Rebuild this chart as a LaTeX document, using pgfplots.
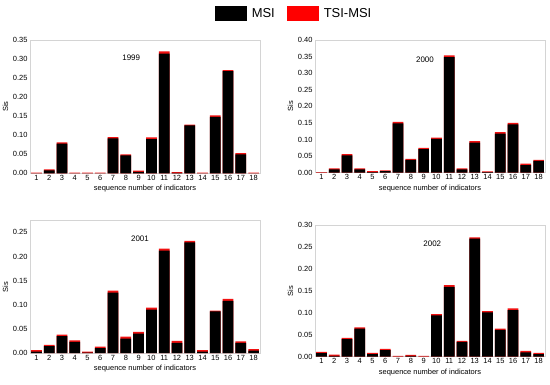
\documentclass[border=0pt]{standalone}
\usepackage{pgfplots}
\pgfplotsset{compat=1.18}
\usepackage{pgfplotstable}
\usepackage{fontspec}
\setmainfont{Liberation Sans}
\definecolor{boxgray}{HTML}{D4D4D4}
\definecolor{capred}{HTML}{F01010}

\pgfplotstableread{
x msi tsi
1 0.000 0.002
2 0.008 0.010
3 0.078 0.081
4 0.000 0.002
5 0.000 0.002
6 0.000 0.002
7 0.092 0.095
8 0.047 0.050
9 0.004 0.007
10 0.090 0.094
11 0.314 0.320
12 0.001 0.003
13 0.126 0.128
14 0.000 0.002
15 0.148 0.152
16 0.268 0.271
17 0.050 0.053
18 0.000 0.002
}\ynineteen

\pgfplotstableread{
x msi tsi
1 0.000 0.002
2 0.010 0.013
3 0.052 0.056
4 0.010 0.013
5 0.002 0.005
6 0.005 0.007
7 0.149 0.153
8 0.039 0.042
9 0.071 0.075
10 0.102 0.106
11 0.348 0.354
12 0.010 0.013
13 0.091 0.095
14 0.002 0.004
15 0.118 0.122
16 0.146 0.150
17 0.023 0.027
18 0.036 0.039
}\ytwothousand

\pgfplotstableread{
x msi tsi
1 0.003 0.006
2 0.014 0.017
3 0.035 0.038
4 0.023 0.026
5 0.001 0.003
6 0.010 0.013
7 0.125 0.129
8 0.030 0.034
9 0.040 0.044
10 0.090 0.094
11 0.212 0.216
12 0.021 0.025
13 0.229 0.232
14 0.003 0.006
15 0.086 0.088
16 0.108 0.112
17 0.021 0.024
18 0.005 0.008
}\ytwothousandone

\pgfplotstableread{
x msi tsi
1 0.008 0.011
2 0.002 0.005
3 0.040 0.043
4 0.064 0.067
5 0.006 0.009
6 0.015 0.018
7 0.000 0.002
8 0.002 0.004
9 0.000 0.002
10 0.094 0.097
11 0.159 0.163
12 0.034 0.036
13 0.269 0.272
14 0.101 0.104
15 0.061 0.064
16 0.106 0.110
17 0.010 0.013
18 0.006 0.009
}\ytwothousandtwo

\pgfplotsset{
  panel/.style={
    scale only axis,
    width=230bp,
    xmin=0.5, xmax=18.5,
    ymin=0,
    xtick={1,...,18},
    axis line style={boxgray, line width=0.8pt},
    major tick length=0pt,
    tick style={draw=none},
    /pgf/number format/assume math mode=true,
    yticklabel style={/pgf/number format/fixed,/pgf/number format/fixed zerofill,/pgf/number format/precision=2},
    ticklabel style={font=\fontsize{7.5}{8}\selectfont},
    xticklabel style={yshift=1.5bp},
    yticklabel style={xshift=1bp},
    label style={font=\fontsize{7.5}{8}\selectfont},
    xlabel={sequence number of indicators},
    ylabel={Sis},
    xlabel style={yshift=2bp},
    ylabel style={yshift=-2bp},
    scaled y ticks=false,
    clip=false,
  },
  redbar/.style={ybar, bar width=0.84, bar shift=0pt, fill=capred, draw=none},
  blackbar/.style={ybar, bar width=0.84, bar shift=0pt, fill=black, draw=none},
}

\begin{document}
\begin{tikzpicture}[x=1bp,y=1bp]
\useasboundingbox (0,0) rectangle (550,384);

% 1999
\begin{axis}[panel, at={(30bp,210.7bp)}, height=133.3bp, ymax=0.35,
  ytick={0,0.05,...,0.351},
  legend columns=2,
  legend style={at={(1.148,1.2)}, anchor=center, draw=none, fill=none,
    font=\fontsize{13}{14}\selectfont,
    /tikz/every odd column/.append style={column sep=3bp},
    /tikz/every even column/.append style={column sep=10bp}},
  legend image code/.code={\fill[#1] (0bp,-7.3bp) rectangle (32bp,7.3bp);},
]
\addplot[redbar, forget plot] table[x=x,y=tsi]{\ynineteen};
\addplot[blackbar, forget plot] table[x=x,y=msi]{\ynineteen};
\addlegendimage{fill=black, draw=none}
\addlegendentry{MSI}
\addlegendimage{fill=red, draw=none}
\addlegendentry{TSI-MSI}
\node[font=\fontsize{8}{9}\selectfont] at (rel axis cs:0.44,0.867) {1999};
\end{axis}

% 2000
\begin{axis}[panel, at={(315bp,211.3bp)}, height=132.7bp, ymax=0.40,
  ytick={0,0.05,...,0.401}]
\addplot[redbar] table[x=x,y=tsi]{\ytwothousand};
\addplot[blackbar] table[x=x,y=msi]{\ytwothousand};
\node[font=\fontsize{8}{9}\selectfont] at (rel axis cs:0.478,0.85) {2000};
\end{axis}

% 2001
\begin{axis}[panel, at={(30bp,31bp)}, height=132.3bp, ymax=0.274,
  ytick={0,0.05,...,0.251}]
\addplot[redbar] table[x=x,y=tsi]{\ytwothousandone};
\addplot[blackbar] table[x=x,y=msi]{\ytwothousandone};
\node[font=\fontsize{8}{9}\selectfont] at (rel axis cs:0.478,0.867) {2001};
\end{axis}

% 2002
\begin{axis}[panel, at={(315bp,27.3bp)}, height=131.7bp, ymax=0.30,
  ytick={0,0.05,...,0.301}]
\addplot[redbar] table[x=x,y=tsi]{\ytwothousandtwo};
\addplot[blackbar] table[x=x,y=msi]{\ytwothousandtwo};
\node[font=\fontsize{8}{9}\selectfont] at (rel axis cs:0.51,0.86) {2002};
\end{axis}
\end{tikzpicture}
\end{document}
